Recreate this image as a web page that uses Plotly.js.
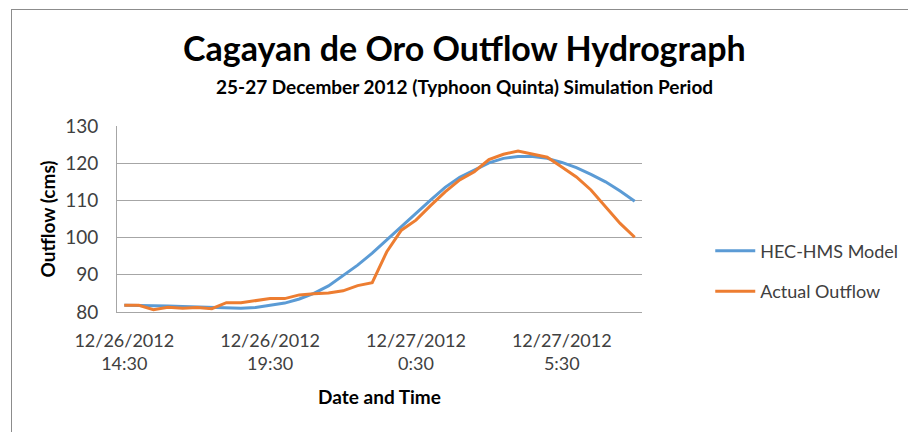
<!DOCTYPE html>
<html>
<head>
<meta charset="utf-8">
<script src="https://cdn.plot.ly/plotly-3.0.1.min.js"></script>
<style>
  html, body { margin: 0; padding: 0; background: #fff; }
  #chart { width: 908px; height: 432px; position: relative; }
  #frame { position: absolute; left: 11px; top: 9px; width: 2000px; height: 2000px;
           border-left: 1px solid #8c8c8c; border-top: 1px solid #8c8c8c; pointer-events: none; z-index: 10; }
</style>
</head>
<body>
<div id="chart"></div>
<div id="frame"></div>
<script>
// Time stamps (every 30 minutes)
const times = [
  "12/26/2012 14:30","12/26/2012 15:00","12/26/2012 15:30","12/26/2012 16:00","12/26/2012 16:30",
  "12/26/2012 17:00","12/26/2012 17:30","12/26/2012 18:00","12/26/2012 18:30","12/26/2012 19:00",
  "12/26/2012 19:30","12/26/2012 20:00","12/26/2012 20:30","12/26/2012 21:00","12/26/2012 21:30",
  "12/26/2012 22:00","12/26/2012 22:30","12/26/2012 23:00","12/26/2012 23:30","12/27/2012 0:00",
  "12/27/2012 0:30","12/27/2012 1:00","12/27/2012 1:30","12/27/2012 2:00","12/27/2012 2:30",
  "12/27/2012 3:00","12/27/2012 3:30","12/27/2012 4:00","12/27/2012 4:30","12/27/2012 5:00",
  "12/27/2012 5:30","12/27/2012 6:00","12/27/2012 6:30","12/27/2012 7:00","12/27/2012 7:30",
  "12/27/2012 8:00"
];
const hecHms = [
  81.8, 81.8, 81.7, 81.6, 81.5, 81.4, 81.3, 81.2, 81.0, 81.2,
  81.7, 82.4, 83.5, 85.0, 87.0, 89.7, 92.6, 95.8, 99.3, 102.9,
  106.5, 110.1, 113.5, 116.2, 118.2, 120.1, 121.3, 121.8, 121.8, 121.3,
  120.2, 118.8, 117.0, 115.0, 112.5, 109.8
];
const actual = [
  81.8, 81.8, 80.6, 81.3, 81.0, 81.2, 80.9, 82.5, 82.5, 83.0,
  83.6, 83.6, 84.6, 84.9, 85.1, 85.7, 87.1, 87.9, 96.2, 102.0,
  104.7, 108.6, 112.3, 115.5, 117.7, 121.0, 122.4, 123.3, 122.5, 121.6,
  119.0, 116.3, 112.8, 108.3, 103.8, 100.1
];
const tickTimes = ["12/26/2012 14:30","12/26/2012 19:30","12/27/2012 0:30","12/27/2012 5:30"];
const tickLabels = ["12/26/2012<br>14:30","12/26/2012<br>19:30","12/27/2012<br>0:30","12/27/2012<br>5:30"];
const seriesNames = ["HEC-HMS Model","Actual Outflow"];

const FONT = "Lato, 'Open Sans', sans-serif";

const traces = [
  { x: times, y: hecHms, type: "scatter", mode: "lines", name: seriesNames[0], legendgroup: "a",
    line: { color: "#5B9BD5", width: 3 } },
  { x: times, y: actual, type: "scatter", mode: "lines", name: seriesNames[1], legendgroup: "b",
    line: { color: "#ED7D31", width: 3 } }
];

const layout = {
  width: 908, height: 432,
  margin: { l: 117, r: 266, t: 126, b: 120, autoexpand: false },
  paper_bgcolor: "#ffffff", plot_bgcolor: "#ffffff",
  font: { family: FONT, color: "#404040", size: 18 },
  showlegend: true,
  legend: { x: 1.13, y: 0.22, xanchor: "left", yanchor: "middle",
            font: { family: FONT, size: 18, color: "#404040" },
            traceorder: "grouped", tracegroupgap: 14, itemwidth: 40 },
  xaxis: {
    type: "category", range: [-0.5, 35.5],
    tickvals: tickTimes, ticktext: tickLabels,
    tickfont: { family: FONT, size: 18, color: "#404040" },
    showgrid: false, showline: true, linecolor: "#a6a6a6", linewidth: 1,
    ticks: "", zeroline: false, automargin: false, ticklabelstandoff: 12,
    title: { text: "<b>Date and Time</b>", font: { family: FONT, size: 19, color: "#000" }, standoff: 17 }
  },
  yaxis: {
    range: [80, 130], dtick: 10, tick0: 80,
    tickfont: { family: FONT, size: 19, color: "#404040" },
    showgrid: true, gridcolor: "#a6a6a6", gridwidth: 1,
    showline: true, linecolor: "#a6a6a6", linewidth: 1,
    ticks: "", zeroline: false, automargin: false, ticklabelstandoff: 14,
    title: { text: "<b>Outflow (cms)</b>", font: { family: FONT, size: 19, color: "#000" }, standoff: 4 }
  },
  annotations: [
    { text: "<b>Cagayan de Oro Outflow Hydrograph</b>", xref: "paper", yref: "paper",
      x: 0.662, y: 1, xanchor: "center", yanchor: "bottom", yshift: 56, showarrow: false,
      font: { family: FONT, size: 34, color: "#000" } },
    { text: "<b>25-27 December 2012 (Typhoon Quinta) Simulation Period</b>", xref: "paper", yref: "paper",
      x: 0.662, y: 1, xanchor: "center", yanchor: "bottom", yshift: 26, showarrow: false,
      font: { family: FONT, size: 19, color: "#000" } }
  ]
};

Plotly.newPlot("chart", traces, layout, { displayModeBar: false, staticPlot: true });
</script>
</body>
</html>
